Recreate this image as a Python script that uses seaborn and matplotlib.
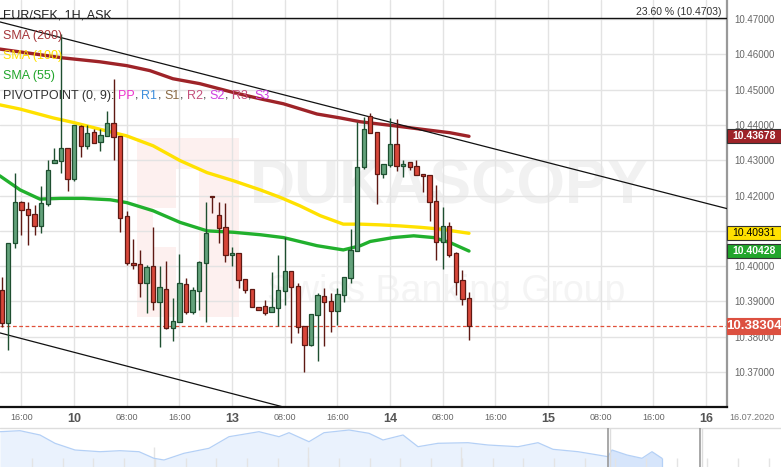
import numpy as np
import pandas as pd
import seaborn as sns
import matplotlib.pyplot as plt
from matplotlib.patches import Rectangle
from matplotlib.transforms import blended_transform_factory

W, H = 781, 467

# --- EUR/SEK 1H candles (index 0 = 09.07 13:00, weekend hours skipped) ---
opens = [10.3932, 10.3838, 10.4066, 10.4182, 10.4162, 10.4148, 10.4114, 10.4176, 10.4292, 10.4298,
         10.4335, 10.4247, 10.4397, 10.4340, 10.4380, 10.4352, 10.4369, 10.4405, 10.4369, 10.4141,
         10.4009, 10.4006, 10.3952, 10.4000, 10.3898, 10.3935, 10.3825, 10.3841, 10.3949, 10.3869,
         10.3929, 10.4009, 10.4199, 10.4145, 10.4111, 10.4031, 10.4037, 10.3963, 10.3935, 10.3884,
         10.3887, 10.3870, 10.3881, 10.3929, 10.3986, 10.3944, 10.3830, 10.3776, 10.3861, 10.3915,
         10.3901, 10.3873, 10.3918, 10.3966, 10.4043, 10.4281, 10.4425, 10.4380, 10.4261, 10.4286,
         10.4346, 10.4284, 10.4295, 10.4284, 10.4261, 10.4258, 10.4184, 10.4068, 10.4114, 10.4037,
         10.3961, 10.3910]
highs = [10.3970, 10.4066, 10.4263, 10.4185, 10.4182, 10.4174, 10.4227, 10.4301, 10.4336, 10.4658,
         10.4335, 10.4400, 10.4400, 10.4400, 10.4388, 10.4388, 10.4440, 10.4530, 10.4369, 10.4157,
         10.4077, 10.4046, 10.4003, 10.4111, 10.4000, 10.4014, 10.3910, 10.4034, 10.3967, 10.3941,
         10.4015, 10.4182, 10.4199, 10.4182, 10.4179, 10.4054, 10.4037, 10.3963, 10.3935, 10.3884,
         10.3904, 10.3983, 10.4031, 10.4082, 10.3986, 10.3952, 10.3830, 10.3864, 10.3924, 10.3938,
         10.3924, 10.3938, 10.3969, 10.4105, 10.4408, 10.4422, 10.4434, 10.4380, 10.4289, 10.4420,
         10.4417, 10.4301, 10.4295, 10.4301, 10.4261, 10.4258, 10.4230, 10.4167, 10.4125, 10.4040,
         10.3989, 10.3927]
lows = [10.3828, 10.3763, 10.4051, 10.4088, 10.4060, 10.4088, 10.4095, 10.4171, 10.4292, 10.4263,
        10.4214, 10.4242, 10.4310, 10.4332, 10.4350, 10.4327, 10.4369, 10.4302, 10.4097, 10.4003,
        10.3992, 10.3914, 10.3866, 10.3876, 10.3770, 10.3822, 10.3787, 10.3841, 10.3864, 10.3864,
        10.3876, 10.3841, 10.4150, 10.4067, 10.4012, 10.4000, 10.3938, 10.3924, 10.3884, 10.3876,
        10.3861, 10.3870, 10.3830, 10.3890, 10.3782, 10.3810, 10.3700, 10.3774, 10.3731, 10.3774,
        10.3813, 10.3833, 10.3898, 10.3952, 10.4043, 10.4275, 10.4377, 10.4176, 10.4250, 10.4281,
        10.4269, 10.4252, 10.4272, 10.4258, 10.4210, 10.4128, 10.4017, 10.3992, 10.4026, 10.3918,
        10.3890, 10.3791]
closes = [10.3838, 10.4066, 10.4182, 10.4159, 10.4145, 10.4114, 10.4179, 10.4272, 10.4301, 10.4335,
          10.4247, 10.4400, 10.4340, 10.4377, 10.4350, 10.4371, 10.4405, 10.4366, 10.4136, 10.4008,
          10.4003, 10.3952, 10.3998, 10.3898, 10.3941, 10.3825, 10.3844, 10.3952, 10.3869, 10.3932,
          10.4012, 10.4095, 10.4195, 10.4108, 10.4031, 10.4037, 10.3961, 10.3932, 10.3884, 10.3876,
          10.3867, 10.3884, 10.3932, 10.3986, 10.3941, 10.3827, 10.3776, 10.3864, 10.3918, 10.3898,
          10.3873, 10.3921, 10.3969, 10.4046, 10.4281, 10.4388, 10.4377, 10.4261, 10.4289, 10.4346,
          10.4284, 10.4289, 10.4281, 10.4258, 10.4255, 10.4182, 10.4068, 10.4114, 10.4031, 10.3955,
          10.3907, 10.38304]

# moving averages (at a few candle positions)
sma200_idx = [-0.3, 9.3, 14.9, 19.0, 22.5, 26.0, 30.1, 35.2, 39.3, 42.8, 47.9, 51.4, 54.5, 59.5, 64.6, 68.1, 71]
sma200 = [10.4615, 10.4590, 10.4579, 10.4568, 10.4554, 10.4531, 10.4517, 10.4492, 10.4474, 10.4460,
          10.4431, 10.4420, 10.4409, 10.4398, 10.4386, 10.4378, 10.43678]
sma100_idx = [-0.3, 2.8, 7.8, 10.9, 14.9, 19.0, 23.0, 27.1, 31.2, 35.2, 39.3, 42.3, 45.3, 48.4, 51.9,
              54.5, 57.5, 60.5, 63.6, 66.6, 71]
sma100 = [10.4457, 10.4445, 10.4420, 10.4407, 10.4388, 10.4369, 10.4341, 10.4299, 10.4265, 10.4242,
          10.4216, 10.4195, 10.4171, 10.4143, 10.4119, 10.4119, 10.4117, 10.4114, 10.4110, 10.4105, 10.40931]
sma55_idx = [-0.3, 2.8, 5.8, 8.9, 12.4, 16.5, 19.0, 23.0, 27.1, 31.2, 35.2, 39.3, 42.8, 47.9, 51.9,
             54.5, 56.0, 59.5, 62.6, 65.6, 68.1, 71]
sma55 = [10.4256, 10.4216, 10.4190, 10.4192, 10.4192, 10.4188, 10.4180, 10.4157, 10.4124, 10.4100,
         10.4096, 10.4089, 10.4081, 10.4058, 10.4046, 10.4058, 10.4070, 10.4081, 10.4086, 10.4081,
         10.4067, 10.40428]

# drawn channel lines (anchor index, price)
trend_upper = [(-0.3, 10.4692), (110.2, 10.4163)]
trend_lower = [(-0.3, 10.3811), (43.2, 10.3599)]
fib_level = 10.4703
last_price = 10.38304

y_ticks = [10.37, 10.38, 10.39, 10.40, 10.41, 10.42, 10.43, 10.44, 10.45, 10.46, 10.47]
x_ticks = [3, 11, 19, 27, 35, 43, 51, 59, 67, 75, 83, 91, 99, 107]
x_labels = ["16:00", "10", "08:00", "16:00", "13", "08:00", "16:00", "14",
            "08:00", "16:00", "15", "08:00", "16:00", "16"]

# navigator overview line (position, level)
nav_pos = [0, 20, 40, 55, 75, 100, 120, 139, 154, 164, 184, 209, 229, 259, 279, 289, 309, 324, 349,
           369, 383, 403, 418, 438, 468, 488, 518, 538, 553, 578, 598, 608, 612, 627, 642, 652, 662]
nav_level = [35.3, 36.3, 32, 23.7, 17, 15.3, 16.3, 15.3, 8.7, 7, 13.7, 18.7, 30.3, 35.3, 30.3, 34.3,
             25.3, 34.3, 37, 33.7, 27, 32, 20.3, 23.7, 24.3, 22, 20.3, 24.3, 17.7, 15.3, 12, 10.3,
             17, 12, 8.7, 15.3, 8.7]

UP_FILL, UP_EDGE = "#63a27b", "#1e4f30"
DN_FILL, DN_EDGE = "#d8473a", "#5e1913"

sns.set_style("white")
plt.rcParams["font.family"] = ["Liberation Sans", "DejaVu Sans"]

fig = plt.figure(figsize=(W / 100, H / 100), dpi=100)
ax = fig.add_axes([0, 60 / H, 727 / W, 407 / H])
ax.set_xlim(-0.26, 110.2)
ax.set_ylim(10.3601, 10.4754)

# grid
for v in y_ticks:
    ax.axhline(v, color="#e3e3e3", lw=1, zorder=0.8)
for t in x_ticks:
    ax.axvline(t, color="#e3e3e3", lw=1, zorder=0.8)

# watermark (logo block + brand text)
ax.add_patch(Rectangle((137 / 727, 1 - 317 / 407), 102 / 727, 179 / 407, transform=ax.transAxes,
                       facecolor="#fdf0ef", edgecolor="none", zorder=0.5))
for (x0, y0, w, h) in [(176, 169, 23, 148), (153, 208, 23, 39)]:
    ax.add_patch(Rectangle((x0 / 727, 1 - (y0 + h) / 407), w / 727, h / 407, transform=ax.transAxes,
                           facecolor="white", edgecolor="none", zorder=0.6))
ax.text(450 / 727, 1 - 187 / 407, "DUKASCOPY", transform=ax.transAxes, ha="center", va="center",
        fontsize=45, fontweight="bold", color="#f1f1f1", zorder=0.7)
ax.text(446 / 727, 1 - 292 / 407, "Swiss Banking Group", transform=ax.transAxes, ha="center",
        va="center", fontsize=27, color="#f4f4f4", zorder=0.7)

# moving averages
sns.lineplot(x=sma200_idx, y=sma200, ax=ax, color="#9e2328", lw=2.4, zorder=3)
sns.lineplot(x=sma100_idx, y=sma100, ax=ax, color="#ffe100", lw=2.4, zorder=3)
sns.lineplot(x=sma55_idx, y=sma55, ax=ax, color="#21b02d", lw=2.4, zorder=3)

# channel lines and fib level
for line in (trend_upper, trend_lower):
    xs, ys = zip(*line)
    ax.plot(xs, ys, color="#111111", lw=0.9, zorder=4)
ax.axhline(fib_level, color="#111111", lw=1.0, zorder=4)
ax.text(721 / 727, fib_level + 0.0004, "23.60 % (10.4703)",
        transform=blended_transform_factory(ax.transAxes, ax.transData),
        ha="right", va="bottom", fontsize=7.5, color="#333333")
ax.axhline(last_price, color="#e0503a", lw=0.9, ls=(0, (3, 2)), zorder=2)

# candles
df = pd.DataFrame({"o": opens, "h": highs, "l": lows, "c": closes})
df["i"] = np.arange(len(df))
for r in df.itertuples():
    up = r.c >= r.o
    fill, edge = (UP_FILL, UP_EDGE) if up else (DN_FILL, DN_EDGE)
    ax.vlines(r.i, r.l, r.h, color=edge, lw=1.0, zorder=5)
    ax.bar(r.i, max(abs(r.c - r.o), 0.00012), bottom=min(r.o, r.c), width=0.66,
           color=fill, edgecolor=edge, linewidth=0.9, zorder=6)

# axes styling
for s in ("left", "top"):
    ax.spines[s].set_visible(False)
ax.spines["bottom"].set_color("#111111")
ax.spines["bottom"].set_linewidth(1.6)
ax.spines["right"].set_color("#999999")
ax.spines["right"].set_linewidth(1.6)
ax.yaxis.tick_right()
ax.set_yticks(y_ticks)
ax.set_yticklabels([f"{v:.5f}" for v in y_ticks])
ax.tick_params(axis="y", length=0, pad=5, labelsize=7, labelcolor="#666666")
ax.set_xticks(x_ticks)
ax.set_xticklabels(x_labels)
ax.tick_params(axis="x", length=0, pad=4, labelcolor="#666666")
for lab in ax.get_xticklabels():
    if ":" in lab.get_text():
        lab.set_fontsize(6.5)
    else:
        lab.set_fontsize(9)
        lab.set_fontweight("bold")
        lab.set_color("#555555")
fig.text(752 / W, 1 - 417 / H, "16.07.2020", ha="center", va="center", fontsize=6.5, color="#777777")

# price badges on the right scale
bt = blended_transform_factory(ax.transAxes, ax.transData)
badges = [(sma200[-1], "#9e2328", "white", "bold", 7.5, 0.0040),
          (sma100[-1], "#ffe100", "black", "normal", 7.5, 0.0040),
          (sma55[-1], "#21a52b", "white", "bold", 7.5, 0.0040),
          (last_price, "#dc5040", "white", "bold", 9.5, 0.0048)]
for v, fc, tc, fw, fs, hh in badges:
    ax.add_patch(Rectangle((1.0, v - hh / 2), 54 / 727, hh, transform=bt, facecolor=fc,
                           edgecolor="#333333" if fc != "#dc5040" else fc, lw=0.8,
                           clip_on=False, zorder=10))
    ax.text(1.0 + 27 / 727, v, f"{v:.5f}", transform=bt, ha="center", va="center",
            fontsize=fs, color=tc, fontweight=fw, zorder=11, clip_on=False)

# legend texts top-left
renderer = fig.canvas.get_renderer()


def text_row(y_px, parts, size=9):
    x = 3
    for s, col in parts:
        t = fig.text(x / W, 1 - y_px / H, s, color=col, fontsize=size, va="center", ha="left", zorder=12)
        x += t.get_window_extent(renderer=renderer).width


text_row(15, [("EUR/SEK, 1H, ASK", "#222222")])
text_row(36, [("SMA (200)", "#a5363a")])
text_row(56, [("SMA (100)", "#ffe100")])
text_row(76, [("SMA (55)", "#21a52b")])
piv = [("PIVOTPOINT (0, 9): ", "#333333"), ("PP", "#ee33cc"), (", ", "#333333"), ("R1", "#3f8fdc"),
       (", ", "#333333"), ("S1", "#8a6a45"), (", ", "#333333"), ("R2", "#c4507c"), (", ", "#333333"),
       ("S2", "#cf3fe0"), (", ", "#333333"), ("R3", "#c4507c"), (", ", "#333333"), ("S3", "#cf3fe0")]
text_row(96, piv)

# navigator strip
nav = fig.add_axes([0, 0, 1, 40 / H])
nav.set_xlim(0, W)
nav.set_ylim(0, 40)
nav.axis("off")
nav.axhline(39.5, color="#dddddd", lw=1)
for p in np.arange(32, 780, 30.7):
    nav.vlines(p, 0, 9, color="#e4e4e4", lw=1)
for p in (154, 308, 461):
    nav.vlines(p, 0, 20, color="#e4e4e4", lw=1)
sel = [i for i, p in enumerate(nav_pos) if p >= 608]
nav.fill_between(nav_pos, nav_level, color="#eaf2fd", lw=0)
nav.fill_between([nav_pos[i] for i in sel], [nav_level[i] for i in sel], color="#d6e5fb", lw=0)
nav.plot(nav_pos, nav_level, color="#b4d0f6", lw=0.9)
nav.vlines([nav_pos[-1]], 0, nav_level[-1], color="#b4d0f6", lw=0.9)
for p in (608, 700):
    nav.vlines(p, 0, 39, color="#999999", lw=1.2)
    nav.vlines(p + 2, 0, 39, color="#dddddd", lw=1)

fig.savefig("out.png", dpi=100)
